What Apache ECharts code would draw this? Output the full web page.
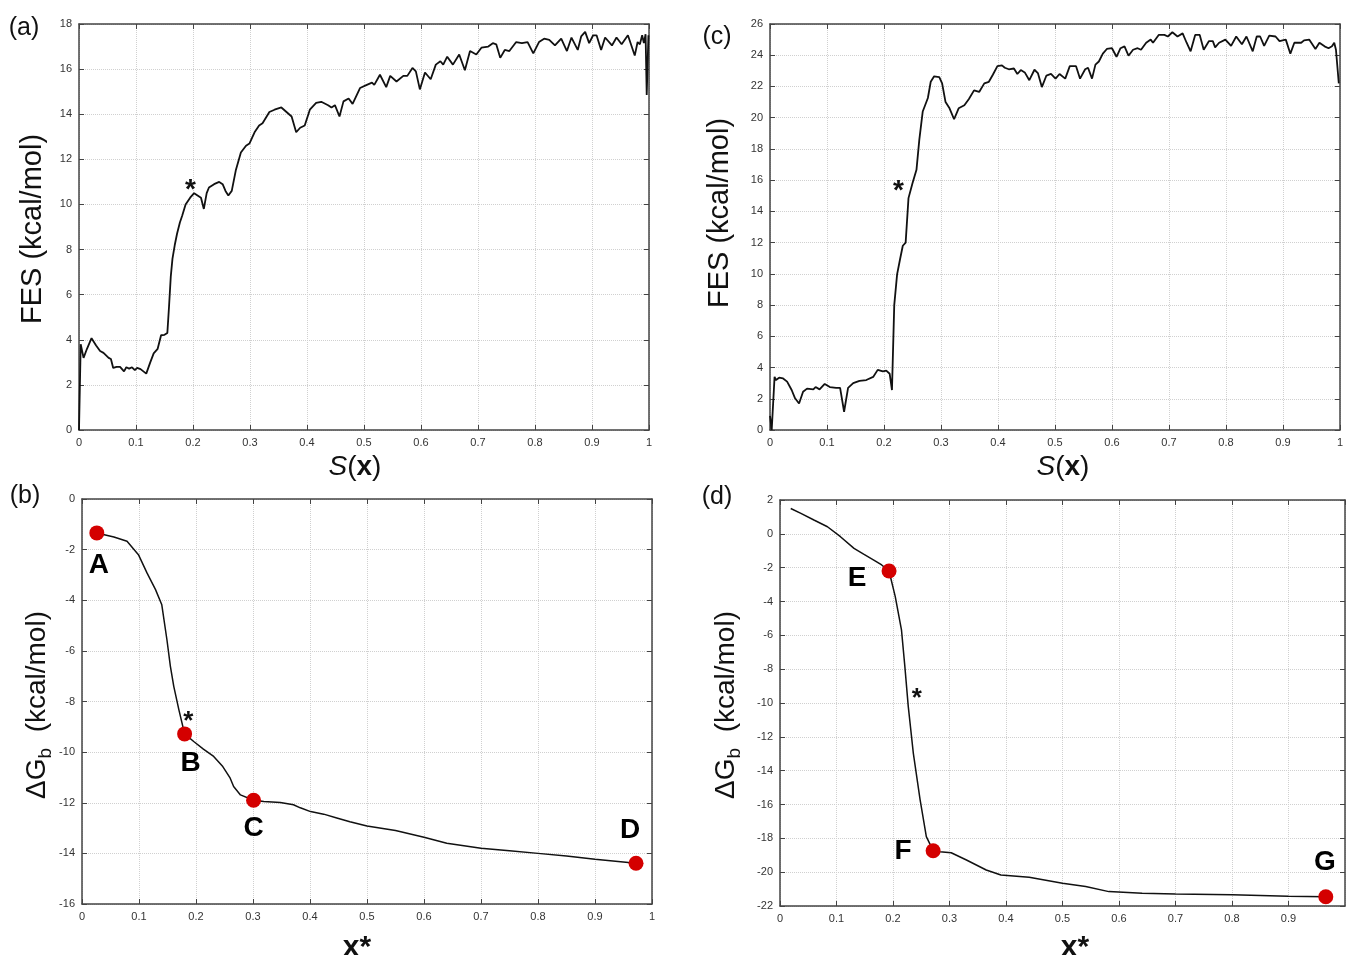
<!DOCTYPE html>
<html><head><meta charset="utf-8">
<script src="https://cdn.jsdelivr.net/npm/echarts@6/dist/echarts.min.js"></script>
<style>html,body{margin:0;padding:0;background:#fff}#c{width:1346px;height:955px}</style>
</head><body><div id="c"></div>
<script>
// ---------- DATA ----------
// Panel (a): FES vs S(x)
const fesA = [[0,0],[0.003,3.8],[0.008,3.2],[0.014,3.6],[0.022,4.07],[0.03,3.75],[0.037,3.5],[0.043,3.42],[0.052,3.2],[0.056,3.15],[0.06,2.75],[0.066,2.8],[0.072,2.8],[0.079,2.6],[0.083,2.78],[0.088,2.72],[0.093,2.78],[0.098,2.65],[0.102,2.75],[0.108,2.7],[0.113,2.6],[0.118,2.5],[0.125,3.0],[0.131,3.4],[0.138,3.6],[0.144,4.2],[0.15,4.22],[0.155,4.3],[0.158,5.5],[0.161,6.8],[0.164,7.6],[0.168,8.2],[0.172,8.7],[0.177,9.2],[0.181,9.5],[0.187,10.0],[0.195,10.3],[0.202,10.5],[0.208,10.4],[0.214,10.3],[0.219,9.8],[0.224,10.5],[0.228,10.75],[0.237,10.9],[0.246,11.0],[0.252,10.9],[0.257,10.6],[0.262,10.4],[0.268,10.6],[0.275,11.5],[0.284,12.3],[0.293,12.6],[0.299,12.7],[0.308,13.2],[0.316,13.5],[0.322,13.6],[0.334,14.1],[0.343,14.2],[0.355,14.3],[0.364,14.1],[0.373,13.9],[0.381,13.2],[0.388,13.4],[0.396,13.5],[0.405,14.2],[0.416,14.5],[0.425,14.55],[0.437,14.4],[0.443,14.3],[0.449,14.4],[0.457,13.9],[0.464,14.57],[0.473,14.7],[0.48,14.46],[0.493,15.16],[0.505,15.3],[0.514,15.4],[0.518,15.3],[0.528,15.75],[0.539,15.2],[0.546,15.7],[0.557,15.45],[0.569,15.7],[0.576,15.7],[0.585,16.05],[0.591,15.9],[0.598,15.1],[0.607,15.85],[0.617,15.55],[0.626,16.2],[0.634,16.35],[0.639,16.2],[0.646,16.55],[0.656,16.2],[0.667,16.65],[0.677,15.95],[0.686,16.8],[0.697,16.65],[0.706,16.95],[0.718,17.0],[0.726,17.15],[0.732,17.1],[0.739,16.5],[0.747,16.85],[0.755,16.8],[0.767,17.2],[0.777,17.15],[0.787,17.2],[0.797,16.7],[0.807,17.2],[0.816,17.35],[0.825,17.3],[0.835,17.05],[0.846,17.35],[0.856,16.8],[0.864,17.4],[0.875,16.85],[0.881,17.45],[0.888,17.65],[0.895,17.15],[0.902,17.5],[0.908,17.5],[0.916,16.85],[0.923,17.4],[0.935,17.05],[0.943,17.4],[0.952,17.1],[0.963,17.5],[0.975,16.6],[0.98,17.2],[0.984,17.1],[0.988,17.5],[0.991,17.15],[0.994,17.55],[0.996,14.85],[0.999,17.5]];
// Panel (c): FES vs S(x)
const fesC = [[0,0.9],[0.003,0],[0.008,3.4],[0.0105,3.2],[0.016,3.35],[0.023,3.3],[0.03,3.1],[0.038,2.56],[0.044,2.03],[0.051,1.7],[0.058,2.45],[0.065,2.65],[0.076,2.6],[0.08,2.75],[0.087,2.6],[0.096,2.95],[0.105,2.75],[0.116,2.7],[0.123,2.7],[0.13,1.17],[0.137,2.7],[0.146,3.0],[0.157,3.15],[0.169,3.2],[0.181,3.4],[0.189,3.85],[0.198,3.75],[0.204,3.8],[0.21,3.6],[0.214,2.56],[0.218,8.0],[0.223,9.97],[0.228,10.9],[0.233,11.8],[0.238,12.0],[0.243,14.85],[0.25,15.8],[0.257,16.66],[0.262,18.6],[0.268,20.4],[0.277,21.26],[0.282,22.3],[0.288,22.65],[0.297,22.6],[0.302,22.2],[0.308,21.0],[0.315,20.6],[0.323,19.9],[0.331,20.6],[0.341,20.8],[0.349,21.2],[0.358,21.75],[0.367,21.65],[0.376,22.2],[0.384,22.3],[0.391,22.75],[0.399,23.3],[0.407,23.35],[0.412,23.2],[0.419,23.1],[0.428,23.15],[0.434,22.8],[0.44,23.05],[0.447,22.9],[0.455,22.4],[0.464,23.07],[0.47,22.86],[0.477,21.96],[0.485,22.7],[0.493,22.8],[0.501,22.5],[0.508,22.8],[0.518,22.5],[0.526,23.3],[0.537,23.3],[0.544,22.5],[0.553,23.1],[0.558,23.2],[0.565,22.5],[0.571,23.4],[0.577,23.6],[0.584,24.1],[0.591,24.4],[0.6,24.45],[0.608,23.9],[0.615,24.45],[0.622,24.57],[0.629,23.97],[0.637,24.35],[0.645,24.45],[0.651,24.35],[0.66,24.8],[0.668,25.0],[0.672,24.8],[0.682,25.3],[0.692,25.3],[0.698,25.2],[0.706,25.47],[0.715,25.2],[0.724,25.4],[0.731,24.8],[0.738,24.25],[0.746,25.3],[0.754,25.3],[0.761,24.35],[0.77,24.9],[0.777,24.9],[0.781,24.5],[0.788,24.8],[0.799,25.0],[0.809,24.6],[0.818,25.2],[0.828,24.7],[0.836,25.2],[0.847,24.25],[0.854,25.2],[0.86,25.2],[0.867,24.6],[0.876,25.25],[0.887,25.2],[0.894,24.9],[0.905,25.0],[0.913,24.1],[0.92,24.8],[0.932,24.8],[0.937,24.95],[0.946,25.0],[0.957,24.4],[0.964,24.8],[0.973,24.57],[0.98,24.45],[0.986,24.57],[0.99,24.8],[0.993,24.35],[0.998,22.2]];
// Panel (b): dG_b vs x*
const dgB = [[0.026,-1.34],[0.056,-1.5],[0.079,-1.67],[0.099,-2.2],[0.114,-2.92],[0.129,-3.58],[0.14,-4.18],[0.149,-5.56],[0.155,-6.6],[0.161,-7.4],[0.17,-8.33],[0.18,-9.28],[0.196,-9.58],[0.213,-9.88],[0.231,-10.17],[0.247,-10.57],[0.26,-11.03],[0.266,-11.36],[0.278,-11.69],[0.301,-11.9],[0.319,-11.95],[0.348,-11.99],[0.371,-12.08],[0.383,-12.2],[0.401,-12.35],[0.424,-12.45],[0.447,-12.6],[0.47,-12.75],[0.5,-12.92],[0.55,-13.1],[0.6,-13.36],[0.64,-13.6],[0.7,-13.8],[0.75,-13.9],[0.8,-14.0],[0.85,-14.1],[0.9,-14.23],[0.972,-14.39]];
const pointsB = [[0.026,-1.34],[0.18,-9.28],[0.301,-11.9],[0.972,-14.39]];
const namesB = ['A','B','C','D'];
// Panel (d): dG_b vs x*
const dgD = [[0.019,1.5],[0.037,1.21],[0.06,0.82],[0.084,0.42],[0.107,-0.17],[0.131,-0.86],[0.148,-1.2],[0.166,-1.55],[0.18,-1.84],[0.193,-2.2],[0.204,-3.71],[0.215,-5.68],[0.221,-7.85],[0.227,-10.2],[0.236,-12.98],[0.248,-15.73],[0.259,-17.9],[0.271,-18.73],[0.283,-18.79],[0.303,-18.85],[0.33,-19.28],[0.365,-19.87],[0.391,-20.17],[0.441,-20.3],[0.5,-20.66],[0.541,-20.85],[0.582,-21.15],[0.641,-21.25],[0.7,-21.29],[0.8,-21.33],[0.9,-21.42],[0.966,-21.45]];
const pointsD = [[0.193,-2.2],[0.271,-18.73],[0.966,-21.45]];
const namesD = ['E','F','G'];
// transition-state asterisks
const starA = [[0.1956,10.95]];
const starB = [[0.1865,-8.52]];
const starC = [[0.2254,15.75]];
const starD = [[0.2422,-9.32]];
// axis ranges / ticks
const xRange = [0, 1, 0.1];
const yRangeA = [0, 18, 2];
const yRangeB = [-16, 0, 2];
const yRangeC = [0, 26, 2];
const yRangeD = [-22, 2, 2];

// ---------- STYLE ----------
const FONT = '"Liberation Sans", Arial, Helvetica, sans-serif';
const offsB = [[2,32],[6,29],[0,28],[-6,-33]];
const offsD = [[-32,7],[-30,1],[-1,-34]];
const grids = [
  {left:79, top:24, width:570, height:406},
  {left:82, top:499, width:570, height:405},
  {left:770, top:24, width:570, height:406},
  {left:780, top:500, width:565, height:406}
];
const yRanges = [yRangeA, yRangeB, yRangeC, yRangeD];
const frame = {show:true, onZero:false, lineStyle:{color:'#444', width:1.5}};
const tick = {show:true, inside:true, length:5, lineStyle:{color:'#444', width:1}};
const split = {show:true, lineStyle:{color:'#d0d0d0', type:'dotted', width:1}};
const xAxes = [], yAxes = [];
grids.forEach((g, i) => {
  xAxes.push({type:'value', gridIndex:i, min:xRange[0], max:xRange[1], interval:xRange[2], position:'bottom',
    axisLine:frame, axisTick:tick, splitLine:split,
    axisLabel:{color:'#333', fontSize:11, fontFamily:FONT, margin:7, showMaxLabel: i !== 3}});
  xAxes.push({type:'value', gridIndex:i, min:xRange[0], max:xRange[1], interval:xRange[2], position:'top',
    axisLine:frame, axisTick:tick, splitLine:{show:false}, axisLabel:{show:false}});
  const r = yRanges[i];
  yAxes.push({type:'value', gridIndex:i, min:r[0], max:r[1], interval:r[2], position:'left',
    axisLine:frame, axisTick:tick, splitLine:split,
    axisLabel:{color:'#333', fontSize:11, fontFamily:FONT, margin:7}});
  yAxes.push({type:'value', gridIndex:i, min:r[0], max:r[1], interval:r[2], position:'right',
    axisLine:frame, axisTick:tick, splitLine:{show:false}, axisLabel:{show:false}});
});
function lineSeries(gi, data, w) {
  return {type:'line', xAxisIndex:gi*2, yAxisIndex:gi*2, data:data, symbol:'none', showSymbol:false,
    lineStyle:{color:'#111', width:w}, z:3, silent:true, animation:false};
}
function starSeries(gi, data, fs) {
  return {type:'scatter', xAxisIndex:gi*2, yAxisIndex:gi*2, data:data, symbolSize:1,
    itemStyle:{color:'rgba(0,0,0,0)', opacity:1},
    label:{show:true, formatter:'*', position:'inside', fontSize:fs, fontWeight:'bold', color:'#111', fontFamily:FONT, offset:[0,7]},
    z:6, silent:true, animation:false};
}
function pointSeries(gi, pts, names, offs) {
  return {type:'scatter', xAxisIndex:gi*2, yAxisIndex:gi*2, symbolSize:15, itemStyle:{color:'#d40000', opacity:1},
    data: pts.map((p, k) => ({value:p, name:names[k], label:{offset:offs[k]}})),
    label:{show:true, formatter:'{b}', position:'inside', fontSize:28, fontWeight:'bold', color:'#000', fontFamily:FONT},
    z:5, silent:true, animation:false};
}
function txt(x, y, text, size, rot, extra) {
  return Object.assign({type:'text', x:x, y:y, rotation:rot||0,
    style:{text:text, fontSize:size, fontFamily:FONT, fill:'#111', align:'center', verticalAlign:'middle'}}, extra||{});
}
const richSX = {
  i:{fontSize:28, fontStyle:'italic', fontFamily:FONT, fill:'#111'},
  n:{fontSize:28, fontFamily:FONT, fill:'#111'},
  b:{fontSize:28, fontWeight:'bold', fontFamily:FONT, fill:'#111'}
};
const richDG = {
  a:{fontSize:28, fontFamily:FONT, fill:'#111', lineHeight:36},
  s:{fontSize:19, fontFamily:FONT, fill:'#111', lineHeight:19, verticalAlign:'bottom'}
};
function richTxt(x, y, text, rich, rot) {
  return {type:'text', x:x, y:y, rotation:rot||0,
    style:{text:text, rich:rich, fontSize:28, fontFamily:FONT, fill:'#111', align:'center', verticalAlign:'middle'}};
}
const boldX = {style:{text:'x*', fontSize:30, fontWeight:'bold', fontFamily:FONT, fill:'#111', align:'center', verticalAlign:'middle'}};
const graphics = [
  txt(24, 28, '(a)', 25), txt(25, 496, '(b)', 25), txt(717, 37, '(c)', 25), txt(717, 497, '(d)', 25),
  txt(33, 229, 'FES (kcal/mol)', 29, Math.PI/2),
  txt(720, 213, 'FES (kcal/mol)', 29, Math.PI/2),
  richTxt(37, 705, '{a|ΔG}{s|b}{a|  (kcal/mol)}', richDG, Math.PI/2),
  richTxt(726, 705, '{a|ΔG}{s|b}{a|  (kcal/mol)}', richDG, Math.PI/2),
  richTxt(355, 467, '{i|S}{n|(}{b|x}{n|)}', richSX),
  richTxt(1063, 467, '{i|S}{n|(}{b|x}{n|)}', richSX),
  txt(357, 948, 'x*', 30, 0, boldX),
  txt(1075, 948, 'x*', 30, 0, boldX)
];
const chart = echarts.init(document.getElementById('c'), null, {renderer:'canvas'});
chart.setOption({
  backgroundColor:'#fff', animation:false,
  grid: grids, xAxis: xAxes, yAxis: yAxes,
  series: [
    lineSeries(0, fesA, 1.8), lineSeries(2, fesC, 1.8),
    lineSeries(1, dgB, 1.5), lineSeries(3, dgD, 1.5),
    pointSeries(1, pointsB, namesB, offsB), pointSeries(3, pointsD, namesD, offsD),
    starSeries(0, starA, 28), starSeries(2, starC, 28), starSeries(1, starB, 26), starSeries(3, starD, 26)
  ],
  graphic: graphics
});
</script></body></html>
